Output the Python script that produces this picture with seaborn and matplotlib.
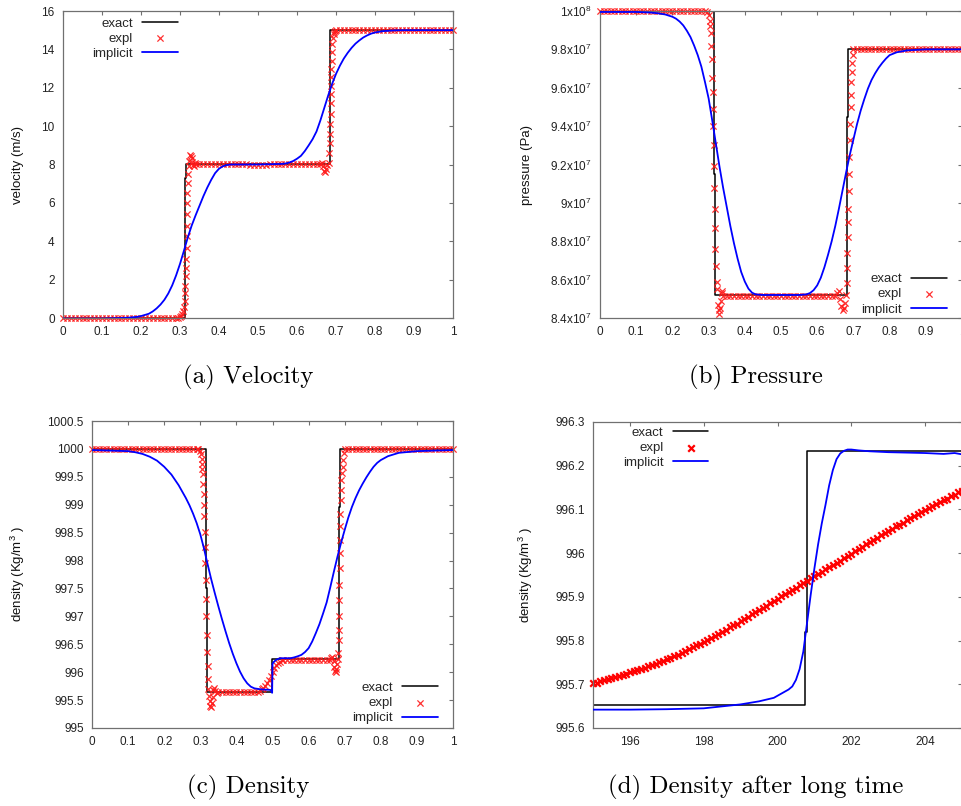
import numpy as np
import matplotlib
matplotlib.use("Agg")
import matplotlib.pyplot as plt
import seaborn as sns

# ------------------------------------------------------------------ data
# (a) velocity (m/s)
a_exact_x = [0.0, 0.313, 0.313, 0.316, 0.316, 0.685, 0.685, 1.0]
a_exact_y = [0.0, 0.0, 7.3, 7.3, 8.05, 8.05, 15.0, 15.0]
a_impl_x = [0.0, 0.10, 0.15, 0.17, 0.19, 0.20, 0.21, 0.22, 0.23, 0.24, 0.25, 0.26, 0.27, 0.28,
            0.29, 0.30, 0.31, 0.32, 0.33, 0.34, 0.35, 0.36, 0.37, 0.38, 0.39, 0.40, 0.41, 0.42,
            0.43, 0.45, 0.50, 0.56, 0.57, 0.58, 0.59, 0.60, 0.61, 0.62, 0.63, 0.64, 0.65, 0.66,
            0.67, 0.68, 0.69, 0.70, 0.71, 0.72, 0.73, 0.74, 0.75, 0.76, 0.77, 0.78, 0.79, 0.80,
            0.82, 0.85, 0.88, 1.0]
a_impl_y = [-0.03, -0.03, 0.0, 0.02, 0.06, 0.10, 0.16, 0.22, 0.34, 0.50, 0.70, 0.95, 1.28, 1.70,
            2.22, 2.82, 3.50, 4.20, 4.82, 5.35, 5.85, 6.35, 6.80, 7.20, 7.55, 7.78, 7.91, 7.97,
            8.0, 8.0, 8.0, 8.03, 8.05, 8.1, 8.18, 8.3, 8.45, 8.7, 9.0, 9.32, 9.72, 10.3,
            10.95, 11.6, 12.2, 12.72, 13.15, 13.52, 13.82, 14.08, 14.3, 14.47, 14.62, 14.73, 14.82, 14.88,
            14.95, 14.99, 15.0, 15.0]
a_expl_x = [0.00, 0.01, 0.02, 0.03, 0.04, 0.05, 0.06, 0.07, 0.08, 0.09,
            0.10, 0.11, 0.12, 0.13, 0.14, 0.15, 0.16, 0.17, 0.18, 0.19,
            0.20, 0.21, 0.22, 0.23, 0.24, 0.25, 0.26, 0.27, 0.28, 0.29,
            0.295, 0.300, 0.303, 0.306, 0.308, 0.310, 0.312, 0.313, 0.314, 0.315,
            0.316, 0.316, 0.317, 0.317, 0.318, 0.318, 0.319, 0.319, 0.320, 0.321,
            0.322, 0.324, 0.326, 0.328, 0.330, 0.332, 0.334, 0.336, 0.338, 0.340,
            0.35, 0.36, 0.37, 0.38, 0.39, 0.40, 0.41, 0.42, 0.43, 0.44, 0.45, 0.46, 0.47,
            0.48, 0.49, 0.50, 0.51, 0.52,
            0.53, 0.54, 0.55, 0.56, 0.57, 0.58, 0.59, 0.60, 0.61, 0.62, 0.63, 0.64, 0.65, 0.66,
            0.663, 0.666, 0.669, 0.672, 0.675, 0.678, 0.681,
            0.683, 0.684, 0.685, 0.685, 0.686, 0.686, 0.687, 0.687, 0.688, 0.688, 0.689, 0.690,
            0.691, 0.692, 0.694, 0.696, 0.698,
            0.70, 0.71, 0.72, 0.73, 0.74, 0.75, 0.76, 0.77, 0.78, 0.79, 0.80, 0.81, 0.82, 0.83,
            0.84, 0.85, 0.86, 0.87, 0.88, 0.89, 0.90, 0.91, 0.92, 0.93, 0.94, 0.95, 0.96, 0.97,
            0.98, 0.99, 1.00]
a_expl_y = [0.0, 0.0, 0.0, 0.0, 0.0, 0.0, 0.0, 0.0, 0.0, 0.0,
            0.0, 0.0, 0.0, 0.0, 0.0, 0.0, 0.0, 0.0, 0.0, 0.0,
            0.0, 0.0, 0.0, 0.0, 0.0, 0.0, 0.0, 0.0, 0.0, 0.0,
            0.02, 0.05, 0.1, 0.2, 0.35, 0.55, 0.9, 1.3, 1.65, 2.2,
            2.6, 3.1, 3.65, 4.25, 4.8, 5.4, 6.0, 6.5, 7.05, 7.5,
            7.9, 8.2, 8.5, 8.45, 8.35, 8.15, 7.95, 7.9, 8.1, 8.05,
            8.05, 8.05, 8.05, 8.05, 8.05, 8.05, 8.05, 8.05, 8.05, 8.05, 8.05, 8.05, 8.05,
            7.98, 7.98, 7.98, 7.98, 7.98,
            8.05, 8.05, 8.05, 8.05, 8.05, 8.05, 8.05, 8.05, 8.05, 8.05, 8.05, 8.05, 8.05, 8.05,
            8.1, 7.9, 7.65, 7.6, 7.75, 7.95, 8.1,
            8.6, 9.1, 9.6, 10.1, 10.65, 11.2, 11.7, 12.1, 12.55, 13.0, 13.4, 13.85,
            14.3, 14.6, 14.8, 14.9, 14.97,
            15.03, 15.03, 15.03, 15.03, 15.03, 15.03, 15.03, 15.03, 15.03, 15.03, 15.03, 15.03,
            15.03, 15.03, 15.03, 15.03, 15.03, 15.03, 15.03, 15.03, 15.03, 15.03, 15.03, 15.03,
            15.03, 15.03, 15.03, 15.03, 15.03, 15.03, 15.03]

# (b) pressure, in units of 1e7 Pa
b_exact_x = [0.0, 0.316, 0.316, 0.319, 0.319, 0.683, 0.683, 0.686, 0.686, 1.0]
b_exact_y = [10.0, 10.0, 9.15, 9.15, 8.52, 8.52, 9.45, 9.45, 9.8, 9.8]
b_impl_x = [0.0, 0.10, 0.14, 0.16, 0.18, 0.20, 0.21, 0.22, 0.23, 0.24, 0.25, 0.26, 0.27, 0.28,
            0.29, 0.30, 0.31, 0.32, 0.33, 0.34, 0.35, 0.36, 0.37, 0.38, 0.39, 0.40, 0.41, 0.42,
            0.43, 0.45, 0.50, 0.55, 0.57, 0.58, 0.59, 0.60, 0.61, 0.62, 0.63, 0.64, 0.65, 0.66,
            0.67, 0.68, 0.69, 0.70, 0.71, 0.72, 0.73, 0.74, 0.75, 0.76, 0.77, 0.78, 0.79, 0.80,
            0.82, 0.85, 0.90, 1.0]
b_impl_y = [9.995, 9.995, 9.992, 9.988, 9.982, 9.97, 9.96, 9.945, 9.925, 9.897, 9.864, 9.82,
            9.77, 9.71, 9.63, 9.545, 9.43, 9.31, 9.19, 9.08, 8.98, 8.88, 8.79, 8.71, 8.64, 8.59,
            8.553, 8.532, 8.523, 8.52, 8.52, 8.52, 8.523, 8.53, 8.545, 8.57, 8.61, 8.665, 8.73,
            8.80, 8.88, 8.97, 9.065, 9.16, 9.25, 9.33, 9.41, 9.48, 9.54, 9.595, 9.64, 9.675,
            9.705, 9.73, 9.752, 9.77, 9.785, 9.795, 9.8, 9.8]
b_expl_x = [0.00, 0.01, 0.02, 0.03, 0.04, 0.05, 0.06, 0.07, 0.08, 0.09,
            0.10, 0.11, 0.12, 0.13, 0.14, 0.15, 0.16, 0.17, 0.18, 0.19,
            0.20, 0.21, 0.22, 0.23, 0.24, 0.25, 0.26, 0.27, 0.28, 0.29,
            0.295, 0.300, 0.303, 0.305, 0.306, 0.308, 0.309, 0.310, 0.311, 0.312,
            0.313, 0.314, 0.315, 0.316, 0.317, 0.318, 0.319, 0.320, 0.322, 0.324,
            0.326, 0.328, 0.330, 0.332, 0.334, 0.336, 0.338, 0.340,
            0.35, 0.36, 0.37, 0.38, 0.39, 0.40, 0.41, 0.42, 0.43, 0.44, 0.45, 0.46, 0.47,
            0.48, 0.49, 0.50, 0.51, 0.52, 0.53, 0.54, 0.55, 0.56, 0.57, 0.58, 0.59, 0.60,
            0.61, 0.62, 0.63, 0.64, 0.65,
            0.655, 0.660, 0.664, 0.667, 0.670, 0.673, 0.676, 0.679, 0.681, 0.682,
            0.683, 0.684, 0.685, 0.686, 0.687, 0.688, 0.689, 0.690, 0.691, 0.692,
            0.693, 0.694, 0.695, 0.697, 0.699, 0.700,
            0.71, 0.72, 0.73, 0.74, 0.75, 0.76, 0.77, 0.78, 0.79, 0.80, 0.81, 0.82, 0.83,
            0.84, 0.85, 0.86, 0.87, 0.88, 0.89, 0.90, 0.91, 0.92, 0.93, 0.94, 0.95, 0.96,
            0.97, 0.98, 0.99, 1.00]
b_expl_y = [10.0, 10.0, 10.0, 10.0, 10.0, 10.0, 10.0, 10.0, 10.0, 10.0,
            10.0, 10.0, 10.0, 10.0, 10.0, 10.0, 10.0, 10.0, 10.0, 10.0,
            10.0, 10.0, 10.0, 10.0, 10.0, 10.0, 10.0, 10.0, 10.0, 10.0,
            9.995, 9.98, 9.95, 9.92, 9.885, 9.82, 9.75, 9.65, 9.58, 9.49,
            9.40, 9.30, 9.19, 9.08, 8.97, 8.87, 8.76, 8.67, 8.59, 8.55,
            8.47, 8.44, 8.42, 8.45, 8.49, 8.53, 8.54, 8.515,
            8.515, 8.515, 8.515, 8.515, 8.515, 8.515, 8.515, 8.515, 8.515, 8.515, 8.515,
            8.515, 8.515, 8.515, 8.515, 8.515, 8.515, 8.515, 8.515, 8.515, 8.515, 8.515,
            8.515, 8.515, 8.515, 8.515, 8.515, 8.515, 8.515, 8.515, 8.515,
            8.53, 8.54, 8.50, 8.46, 8.44, 8.45, 8.48, 8.52, 8.58, 8.66,
            8.74, 8.82, 8.90, 8.97, 9.06, 9.15, 9.24, 9.33, 9.41, 9.50,
            9.56, 9.63, 9.68, 9.73, 9.77, 9.80,
            9.80, 9.80, 9.80, 9.80, 9.80, 9.80, 9.80, 9.80, 9.80, 9.80, 9.80, 9.80, 9.80,
            9.80, 9.80, 9.80, 9.80, 9.80, 9.80, 9.80, 9.80, 9.80, 9.80, 9.80, 9.80, 9.80,
            9.80, 9.80, 9.80, 9.80]

# (c) density (kg/m^3)
c_exact_x = [0.0, 0.315, 0.315, 0.318, 0.318, 0.4995, 0.4995, 0.685, 0.685, 0.688, 0.688, 1.0]
c_exact_y = [1000.0, 1000.0, 997.5, 997.5, 995.65, 995.65, 996.23, 996.23, 998.96, 998.96,
             1000.0, 1000.0]
c_impl_x = [0.0, 0.10, 0.12, 0.14, 0.16, 0.18, 0.20, 0.22, 0.24, 0.26, 0.27, 0.28, 0.29, 0.30,
            0.31, 0.32, 0.33, 0.34, 0.35, 0.36, 0.37, 0.38, 0.39, 0.40, 0.41, 0.42, 0.43, 0.44,
            0.45, 0.47, 0.49, 0.495, 0.499, 0.500, 0.503, 0.51, 0.52, 0.55, 0.56, 0.57, 0.58,
            0.59, 0.60, 0.61, 0.62, 0.63, 0.64, 0.65, 0.66, 0.67, 0.68, 0.69, 0.70, 0.71, 0.72,
            0.73, 0.74, 0.75, 0.76, 0.77, 0.78, 0.79, 0.80, 0.82, 0.85, 0.90, 1.0]
c_impl_y = [999.98, 999.96, 999.94, 999.91, 999.86, 999.79, 999.68, 999.54, 999.35, 999.12,
            998.99, 998.84, 998.67, 998.47, 998.22, 997.94, 997.67, 997.42, 997.18, 996.95,
            996.73, 996.52, 996.33, 996.16, 996.01, 995.89, 995.80, 995.74, 995.71, 995.69,
            995.685, 995.68, 995.63, 996.15, 996.18, 996.22, 996.25, 996.25, 996.265, 996.285,
            996.31, 996.36, 996.43, 996.55, 996.70, 996.86, 997.05, 997.25, 997.52, 997.80,
            998.07, 998.32, 998.55, 998.77, 998.96, 999.12, 999.26, 999.38, 999.49, 999.59,
            999.68, 999.75, 999.80, 999.87, 999.93, 999.96, 999.98]
c_expl_x = [0.00, 0.01, 0.02, 0.03, 0.04, 0.05, 0.06, 0.07, 0.08, 0.09,
            0.10, 0.11, 0.12, 0.13, 0.14, 0.15, 0.16, 0.17, 0.18, 0.19,
            0.20, 0.21, 0.22, 0.23, 0.24, 0.25, 0.26, 0.27, 0.28, 0.29,
            0.295, 0.300, 0.302, 0.304, 0.305, 0.306, 0.307, 0.308, 0.309, 0.310,
            0.311, 0.312, 0.313, 0.314, 0.315, 0.316, 0.317, 0.318, 0.319, 0.320,
            0.321, 0.322, 0.324, 0.326, 0.328, 0.330, 0.332, 0.334, 0.336, 0.338,
            0.340, 0.345,
            0.35, 0.36, 0.37, 0.38, 0.39, 0.40, 0.41, 0.42, 0.43, 0.44, 0.45, 0.46,
            0.465, 0.47, 0.475, 0.48, 0.485, 0.49, 0.495, 0.50, 0.505, 0.51, 0.515, 0.52, 0.525,
            0.53, 0.54, 0.55, 0.56, 0.57, 0.58, 0.59, 0.60, 0.61, 0.62, 0.63, 0.64, 0.65, 0.66,
            0.663, 0.666, 0.669, 0.671, 0.673, 0.675, 0.677, 0.679, 0.681,
            0.682, 0.683, 0.684, 0.684, 0.685, 0.685, 0.686, 0.686, 0.687, 0.687, 0.688, 0.689,
            0.690, 0.691, 0.692, 0.694, 0.696, 0.698,
            0.70, 0.71, 0.72, 0.73, 0.74, 0.75, 0.76, 0.77, 0.78, 0.79, 0.80, 0.81, 0.82, 0.83,
            0.84, 0.85, 0.86, 0.87, 0.88, 0.89, 0.90, 0.91, 0.92, 0.93, 0.94, 0.95, 0.96, 0.97,
            0.98, 0.99, 1.00]
c_expl_y = [1000.0, 1000.0, 1000.0, 1000.0, 1000.0, 1000.0, 1000.0, 1000.0, 1000.0, 1000.0,
            1000.0, 1000.0, 1000.0, 1000.0, 1000.0, 1000.0, 1000.0, 1000.0, 1000.0, 1000.0,
            1000.0, 1000.0, 1000.0, 1000.0, 1000.0, 1000.0, 1000.0, 1000.0, 1000.0, 1000.0,
            999.99, 999.96, 999.90, 999.82, 999.73, 999.64, 999.55, 999.37, 999.19, 999.0,
            998.79, 998.52, 998.25, 997.95, 997.65, 997.32, 997.0, 996.66, 996.37, 996.11,
            995.87, 995.69, 995.58, 995.48, 995.40, 995.37, 995.45, 995.55, 995.68, 995.72,
            995.66, 995.63,
            995.65, 995.65, 995.65, 995.65, 995.65, 995.65, 995.65, 995.65, 995.65, 995.65,
            995.65, 995.65,
            995.67, 995.69, 995.72, 995.75, 995.80, 995.86, 995.93, 996.0, 996.07, 996.12,
            996.16, 996.19, 996.21,
            996.215, 996.215, 996.215, 996.215, 996.215, 996.215, 996.215, 996.215, 996.215,
            996.215, 996.215, 996.215, 996.215, 996.215,
            996.25, 996.27, 996.2, 996.1, 996.03, 996.0, 996.05, 996.15, 996.24,
            996.34, 996.58, 996.76, 997.0, 997.29, 997.56, 997.86, 998.13, 998.37, 998.61,
            998.84, 999.08, 999.26, 999.44, 999.56, 999.68, 999.80, 999.92,
            1000.0, 1000.0, 1000.0, 1000.0, 1000.0, 1000.0, 1000.0, 1000.0, 1000.0, 1000.0,
            1000.0, 1000.0, 1000.0, 1000.0, 1000.0, 1000.0, 1000.0, 1000.0, 1000.0, 1000.0,
            1000.0, 1000.0, 1000.0, 1000.0, 1000.0, 1000.0, 1000.0, 1000.0, 1000.0, 1000.0,
            1000.0]

# (d) density after long time
d_exact_x = [195.0, 200.74, 200.74, 200.79, 200.79, 205.0]
d_exact_y = [995.653, 995.653, 995.82, 995.82, 996.233, 996.233]
d_impl_x = [195.0, 196.0, 197.0, 198.0, 199.0, 199.5, 199.9, 200.3, 200.4, 200.5, 200.6, 200.7,
            200.8, 200.9, 201.0, 201.1, 201.2, 201.3, 201.4, 201.5, 201.6, 201.7, 201.8, 201.9,
            202.0, 202.2, 202.5, 203.0, 204.0, 204.5, 204.8, 205.0]
d_impl_y = [995.642, 995.642, 995.643, 995.645, 995.654, 995.661, 995.669, 995.688, 995.695,
            995.71, 995.735, 995.775, 995.84, 995.905, 995.965, 996.02, 996.068, 996.11,
            996.155, 996.19, 996.215, 996.228, 996.234, 996.237, 996.237, 996.235, 996.233,
            996.231, 996.229, 996.227, 996.229, 996.226]
d_expl_x = [195.0, 195.1, 195.2, 195.3, 195.4, 195.5, 195.6, 195.7, 195.8, 195.9,
            196.0, 196.1, 196.2, 196.3, 196.4, 196.5, 196.6, 196.7, 196.8, 196.9,
            197.0, 197.1, 197.2, 197.3, 197.4, 197.5, 197.6, 197.7, 197.8, 197.9,
            198.0, 198.1, 198.2, 198.3, 198.4, 198.5, 198.6, 198.7, 198.8, 198.9,
            199.0, 199.1, 199.2, 199.3, 199.4, 199.5, 199.6, 199.7, 199.8, 199.9,
            200.0, 200.1, 200.2, 200.3, 200.4, 200.5, 200.6, 200.7, 200.8, 200.9,
            201.0, 201.1, 201.2, 201.3, 201.4, 201.5, 201.6, 201.7, 201.8, 201.9,
            202.0, 202.1, 202.2, 202.3, 202.4, 202.5, 202.6, 202.7, 202.8, 202.9,
            203.0, 203.1, 203.2, 203.3, 203.4, 203.5, 203.6, 203.7, 203.8, 203.9,
            204.0, 204.1, 204.2, 204.3, 204.4, 204.5, 204.6, 204.7, 204.8, 204.9,
            205.0]
d_expl_y = [995.702, 995.704, 995.707, 995.709, 995.712, 995.714, 995.717, 995.719, 995.722, 995.724,
            995.727, 995.730, 995.733, 995.735, 995.738, 995.741, 995.744, 995.747, 995.750, 995.753,
            995.757, 995.761, 995.764, 995.768, 995.772, 995.776, 995.780, 995.785, 995.789, 995.793,
            995.797, 995.802, 995.806, 995.811, 995.816, 995.820, 995.825, 995.830, 995.835, 995.839,
            995.844, 995.849, 995.854, 995.860, 995.865, 995.870, 995.875, 995.880, 995.886, 995.891,
            995.896, 995.901, 995.906, 995.911, 995.916, 995.921, 995.927, 995.932, 995.937, 995.942,
            995.947, 995.952, 995.957, 995.963, 995.968, 995.973, 995.978, 995.983, 995.989, 995.994,
            995.999, 996.004, 996.009, 996.015, 996.020, 996.025, 996.030, 996.035, 996.041, 996.046,
            996.051, 996.056, 996.061, 996.065, 996.070, 996.075, 996.080, 996.085, 996.090, 996.094,
            996.099, 996.103, 996.108, 996.112, 996.117, 996.121, 996.125, 996.130, 996.134, 996.139,
            996.143]

# ticks / labels
unit_ticks = [0.0, 0.1, 0.2, 0.3, 0.4, 0.5, 0.6, 0.7, 0.8, 0.9, 1.0]
unit_labels = ["0", "0.1", "0.2", "0.3", "0.4", "0.5", "0.6", "0.7", "0.8", "0.9", "1"]
a_yticks = [0, 2, 4, 6, 8, 10, 12, 14, 16]
b_yticks = [8.4, 8.6, 8.8, 9.0, 9.2, 9.4, 9.6, 9.8, 10.0]
b_ylabels = ["8.4x10$^{7}$", "8.6x10$^{7}$", "8.8x10$^{7}$", "9x10$^{7}$", "9.2x10$^{7}$",
             "9.4x10$^{7}$", "9.6x10$^{7}$", "9.8x10$^{7}$", "1x10$^{8}$"]
c_yticks = [995.0, 995.5, 996.0, 996.5, 997.0, 997.5, 998.0, 998.5, 999.0, 999.5, 1000.0, 1000.5]
c_ylabels = ["995", "995.5", "996", "996.5", "997", "997.5", "998", "998.5", "999", "999.5",
             "1000", "1000.5"]
d_xticks = [196, 198, 200, 202, 204, 206]
d_yticks = [995.6, 995.7, 995.8, 995.9, 996.0, 996.1, 996.2, 996.3]
d_ylabels = ["995.6", "995.7", "995.8", "995.9", "996", "996.1", "996.2", "996.3"]
captions = ["(a) Velocity", "(b) Pressure", "(c) Density", "(d) Density after long time"]

# ------------------------------------------------------------------ style
sns.set_style("white")
plt.rcParams["font.family"] = ["Liberation Sans", "DejaVu Sans"]
plt.rcParams["mathtext.fontset"] = "custom"
plt.rcParams["mathtext.rm"] = "Liberation Sans"
plt.rcParams["mathtext.it"] = "Liberation Sans:italic"
plt.rcParams["mathtext.bf"] = "Liberation Sans:bold"
plt.rcParams["mathtext.default"] = "regular"

W, H = 961, 806
fig = plt.figure(figsize=(W / 100, H / 100), dpi=100)
fig.patch.set_facecolor("white")


def add_ax(left, top, right, bottom):
    return fig.add_axes([left / W, 1 - bottom / H, (right - left) / W, (bottom - top) / H])


ax_a = add_ax(63, 11, 453, 318)
ax_b = add_ax(600, 11, 962, 318)
ax_c = add_ax(92, 421, 453, 728)
ax_d = add_ax(593, 422, 962, 728)

BORDER = "#707070"


def draw(ax, ex_x, ex_y, ep_x, ep_y, im_x, im_y, bold=False):
    sns.lineplot(x=ex_x, y=ex_y, ax=ax, color="black", linewidth=1.1,
                 estimator=None, sort=False, label="exact", zorder=2)
    if bold:
        sns.scatterplot(x=ep_x, y=ep_y, ax=ax, marker="x", color="#ff0000", s=22,
                        linewidth=1.6, label="expl", clip_on=False, zorder=2.5)
    else:
        sns.scatterplot(x=ep_x, y=ep_y, ax=ax, marker="x", color="#ff1a1a", s=20,
                        linewidth=0.9, label="expl", clip_on=False, alpha=0.9, zorder=2.5)
    sns.lineplot(x=im_x, y=im_y, ax=ax, color="#0000ff", linewidth=1.3,
                 estimator=None, sort=False, label="implicit", zorder=3)


def style(ax, xlim, ylim, xt, xl, yt, yl, ylabel, ylab_x):
    ax.set_xlim(*xlim)
    ax.set_ylim(*ylim)
    ax.set_xticks(xt)
    ax.set_xticklabels(xl)
    ax.set_yticks(yt)
    ax.set_yticklabels(yl)
    ax.set_xlim(*xlim)
    for sp in ax.spines.values():
        sp.set_visible(True)
        sp.set_color(BORDER)
        sp.set_linewidth(0.9)
    ax.tick_params(axis="both", which="major", direction="in", length=3.2, width=0.8,
                   color=BORDER, top=True, right=True, labeltop=False, labelright=False,
                   labelsize=8.5, labelcolor="#222222")
    ax.tick_params(axis="x", pad=6)
    ax.tick_params(axis="y", pad=6)
    ax.set_xlabel("")
    ax.set_ylabel(ylabel, fontsize=9.5, color="#111111", va="center")
    ax.yaxis.set_label_coords(ylab_x, 0.5)
    ax.grid(False)


def legend(ax, loc, anchor):
    ax.legend(loc=loc, bbox_to_anchor=anchor, markerfirst=False, frameon=False,
              fontsize=9.5, handlelength=2.7, handletextpad=0.7, labelspacing=0.22,
              borderpad=0, borderaxespad=0, scatterpoints=1)


draw(ax_a, a_exact_x, a_exact_y, a_expl_x, a_expl_y, a_impl_x, a_impl_y)
style(ax_a, (0, 1), (0, 16), unit_ticks, unit_labels, a_yticks, [str(v) for v in a_yticks],
      "velocity (m/s)", -0.115)
legend(ax_a, "upper right", (0.295, 0.979))

draw(ax_b, b_exact_x, b_exact_y, b_expl_x, b_expl_y, b_impl_x, b_impl_y)
style(ax_b, (0, 1), (8.4, 10.0), unit_ticks, unit_labels, b_yticks, b_ylabels,
      "pressure (Pa)", -0.202)
legend(ax_b, "lower right", (0.9586, 0.008))

draw(ax_c, c_exact_x, c_exact_y, c_expl_x, c_expl_y, c_impl_x, c_impl_y)
style(ax_c, (0, 1), (995.0, 1000.5), unit_ticks, unit_labels, c_yticks, c_ylabels,
      "density (Kg/m$^{3}$ )", -0.205)
legend(ax_c, "lower right", (0.958, 0.012))

draw(ax_d, d_exact_x, d_exact_y, d_expl_x, d_expl_y, d_impl_x, d_impl_y, bold=True)
style(ax_d, (195, 205), (995.6, 996.3), d_xticks, [str(v) for v in d_xticks], d_yticks,
      d_ylabels, "density (Kg/m$^{3}$ )", -0.182)
legend(ax_d, "upper right", (0.3125, 0.985))

cap_pos = [(248, 377), (756, 377), (248, 787), (756, 787)]
for (cx, cy), txt in zip(cap_pos, captions):
    fig.text(cx / W, 1 - cy / H, txt, ha="center", va="center", fontfamily="cmr10",
             fontsize=18, color="black")

fig.savefig("out.png", dpi=100, facecolor="white")
